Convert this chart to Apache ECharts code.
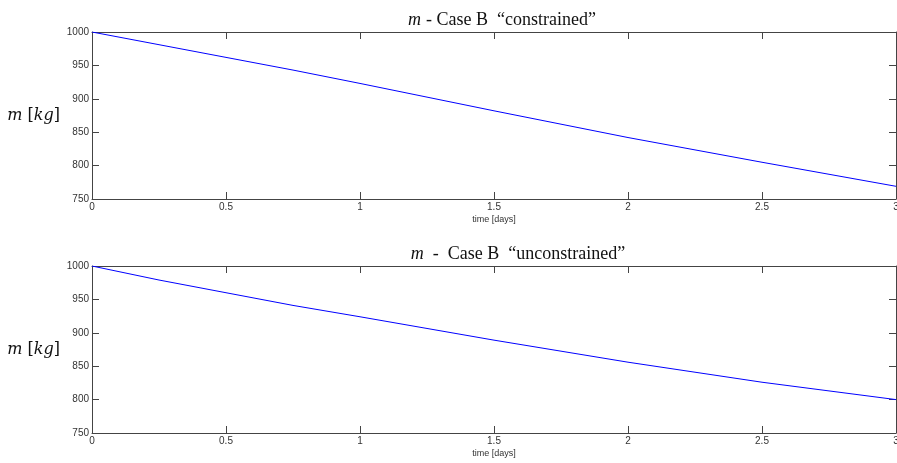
<!DOCTYPE html>
<html><head><meta charset="utf-8">
<script src="https://cdn.jsdelivr.net/npm/echarts@6/dist/echarts.min.js"></script>
<style>html,body{margin:0;padding:0;background:#fff}#c{width:897px;height:463px}</style>
</head><body><div id="c"></div>
<script>
const timeDays = [0, 0.25, 0.5, 0.75, 1, 1.5, 2, 2.5, 3];
const massConstrained = [1000, 981, 962, 943, 923, 882, 842, 805, 769];
const massUnconstrained = [1000, 979, 960, 941, 924, 889, 856, 826, 800];
const xTicks = [0, 0.5, 1, 1.5, 2, 2.5, 3];
const yTicks = [750, 800, 850, 900, 950, 1000];

const chart = echarts.init(document.getElementById('c'));
const frame = '#444';
const tickFont = {fontFamily: 'Liberation Sans, Arial', fontSize: 10, color: '#333'};
function xAx(gi, pos, show) {
  return {type: 'value', gridIndex: gi, position: pos, min: 0, max: 3, interval: 0.5,
    axisLine: {show: true, onZero: false, lineStyle: {color: frame, width: 1}},
    axisTick: {show: true, inside: true, length: 7, lineStyle: {color: frame}},
    splitLine: {show: false},
    axisLabel: show ? Object.assign({show: true, margin: 3, hideOverlap: false, formatter: v => String(v)}, tickFont) : {show: false},
    name: show ? 'time [days]' : '', nameLocation: 'middle', nameGap: 16,
    nameTextStyle: {fontFamily: 'Liberation Sans, Arial', fontSize: 9, color: '#333'}};
}
function yAx(gi, pos, show) {
  return {type: 'value', gridIndex: gi, position: pos, min: 750, max: 1000, interval: 50,
    axisLine: {show: true, onZero: false, lineStyle: {color: frame, width: 1}},
    axisTick: {show: true, inside: true, length: 7, lineStyle: {color: frame}},
    splitLine: {show: false},
    axisLabel: show ? Object.assign({show: true, margin: 3, formatter: v => String(v)}, tickFont) : {show: false},
    name: show ? '{i|m} [{i|kg}]' : '', nameLocation: 'middle', nameRotate: 0, nameGap: 32,
    nameTextStyle: {fontFamily: 'DejaVu Serif', fontSize: 16, color: '#111',
      rich: {i: {fontFamily: 'DejaVu Serif', fontStyle: 'italic', fontSize: 16, color: '#111'}}}};
}
const titleRich = {i: {fontFamily: 'Liberation Serif', fontStyle: 'italic', fontWeight: 'normal', fontSize: 18, color: '#111'},
  n: {fontFamily: 'Liberation Serif', fontWeight: 'normal', fontSize: 18, color: '#111'}};
chart.setOption({
  animation: false,
  title: [
    {text: '{i|m} {n|- Case B  “constrained”}', left: 497, top: 6, textAlign: 'center',
      textStyle: {fontWeight: 'normal', rich: titleRich}},
    {text: '{i|m}{n|  -  Case B  “unconstrained”}', left: 513, top: 240, textAlign: 'center',
      textStyle: {fontWeight: 'normal', rich: titleRich}}
  ],
  grid: [
    {left: 92, right: 1, top: 32, height: 167, containLabel: false, outerBoundsMode: 'none'},
    {left: 92, right: 1, top: 266, height: 167, containLabel: false, outerBoundsMode: 'none'}
  ],
  xAxis: [xAx(0, 'bottom', true), xAx(0, 'top', false), xAx(1, 'bottom', true), xAx(1, 'top', false)],
  yAxis: [yAx(0, 'left', true), yAx(0, 'right', false), yAx(1, 'left', true), yAx(1, 'right', false)],
  series: [
    {type: 'line', xAxisIndex: 0, yAxisIndex: 0, showSymbol: false, symbol: 'none',
      data: timeDays.map((t, i) => [t, massConstrained[i]]), lineStyle: {color: '#0000ff', width: 1}},
    {type: 'line', xAxisIndex: 2, yAxisIndex: 2, showSymbol: false, symbol: 'none',
      data: timeDays.map((t, i) => [t, massUnconstrained[i]]), lineStyle: {color: '#0000ff', width: 1}}
  ]
});
</script></body></html>
